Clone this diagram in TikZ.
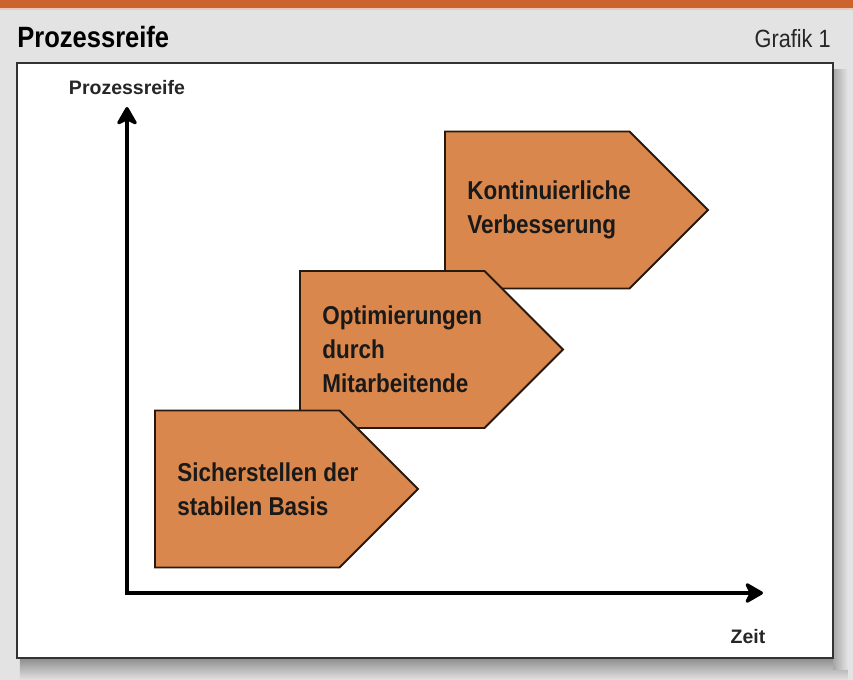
\documentclass[tikz,border=0pt]{standalone}
\usepackage{fontspec}
\setmainfont{Liberation Sans}
\newfontfamily\condfont{Liberation Sans}[FakeStretch=0.87]
\usepackage{tikz}
\usetikzlibrary{positioning}
\usetikzlibrary{shapes,calc,arrows.meta}
\definecolor{barorange}{RGB}{204,98,46}
\definecolor{stageorange}{RGB}{217,135,76}
\definecolor{panelgrey}{RGB}{227,227,227}
\definecolor{edgebrown}{RGB}{40,25,15}

\begin{document}
\begin{tikzpicture}[node distance=2.79cm and 2.9cm, on grid,
    stage/.style={draw=edgebrown, line width=1.1pt, fill=stageorange, shape=signal, signal to=east,
      signal pointer angle=90, minimum width=5.26cm, minimum height=3.14cm, inner sep=0pt},
    stagetext/.style={font=\condfont\bfseries\fontsize{14.7}{19.4}\selectfont, text=black!90,
      align=left, inner sep=0pt, anchor=west},
    axislabel/.style={font=\bfseries\fontsize{11.1}{13}\selectfont, text=black!85, inner sep=0pt},
    axis/.style={line width=1.8pt, {Stealth[length=0.42cm, width=0.48cm, inset=0.12cm, round]}-{Stealth[length=0.42cm, width=0.48cm, inset=0.12cm, round]}}]
    % Frame
    \useasboundingbox (0,0) rectangle (17.06,13.6);
    \fill[panelgrey] (0,0) rectangle (17.06,13.6);
    \fill[barorange] (0,13.44) rectangle (17.06,13.6);
    \fill[barorange!35] (0,13.40) rectangle (17.06,13.44);
    \shade[top color=black!45, bottom color=panelgrey] (0.4,0) rectangle (16.95,0.44);
    \shade[left color=black!35, right color=panelgrey] (16.66,0.2) rectangle (16.95,12.2);
    \draw[fill=white, draw=black!80, line width=0.9pt] (0.34,0.44) rectangle (16.66,12.34);
    \node[font=\condfont\bfseries\fontsize{16.7}{20}\selectfont, anchor=base west, inner sep=0pt] (title) at (0.34,12.64) {Prozessreife};
    \node[font=\condfont\fontsize{14.2}{17}\selectfont, text=black!85, anchor=base east, inner sep=0pt] (grafik) at (16.62,12.64) {Grafik 1};
    % Axes
    \coordinate (origin) at (2.54,1.74);
    \coordinate (ytop) at (2.54,11.46);
    \coordinate (xend) at (15.26,1.74);
    \draw[axis] (ytop) -- (origin) -- (xend);
    \node[axislabel] (ylabel) at (2.54,11.84) {Prozessreife};
    \node[axislabel] (xlabel) at (14.96,0.86) {Zeit};
    % Stages
    \node[stage, anchor=west] (verbesserung) at (8.88,9.40) {};
    \node[stage, below left=of verbesserung] (optimierung) {};
    \node[stage, below left=of optimierung] (basis) {};
    \node[stagetext] (t3) at ([xshift=0.46cm]verbesserung.west) {Kontinuierliche\\Verbesserung};
    \node[stagetext] (t2) at ([xshift=0.46cm]optimierung.west) {Optimierungen\\durch\\Mitarbeitende};
    \node[stagetext] (t1) at ([xshift=0.46cm]basis.west) {Sicherstellen der\\stabilen Basis};
\end{tikzpicture}
\end{document}
